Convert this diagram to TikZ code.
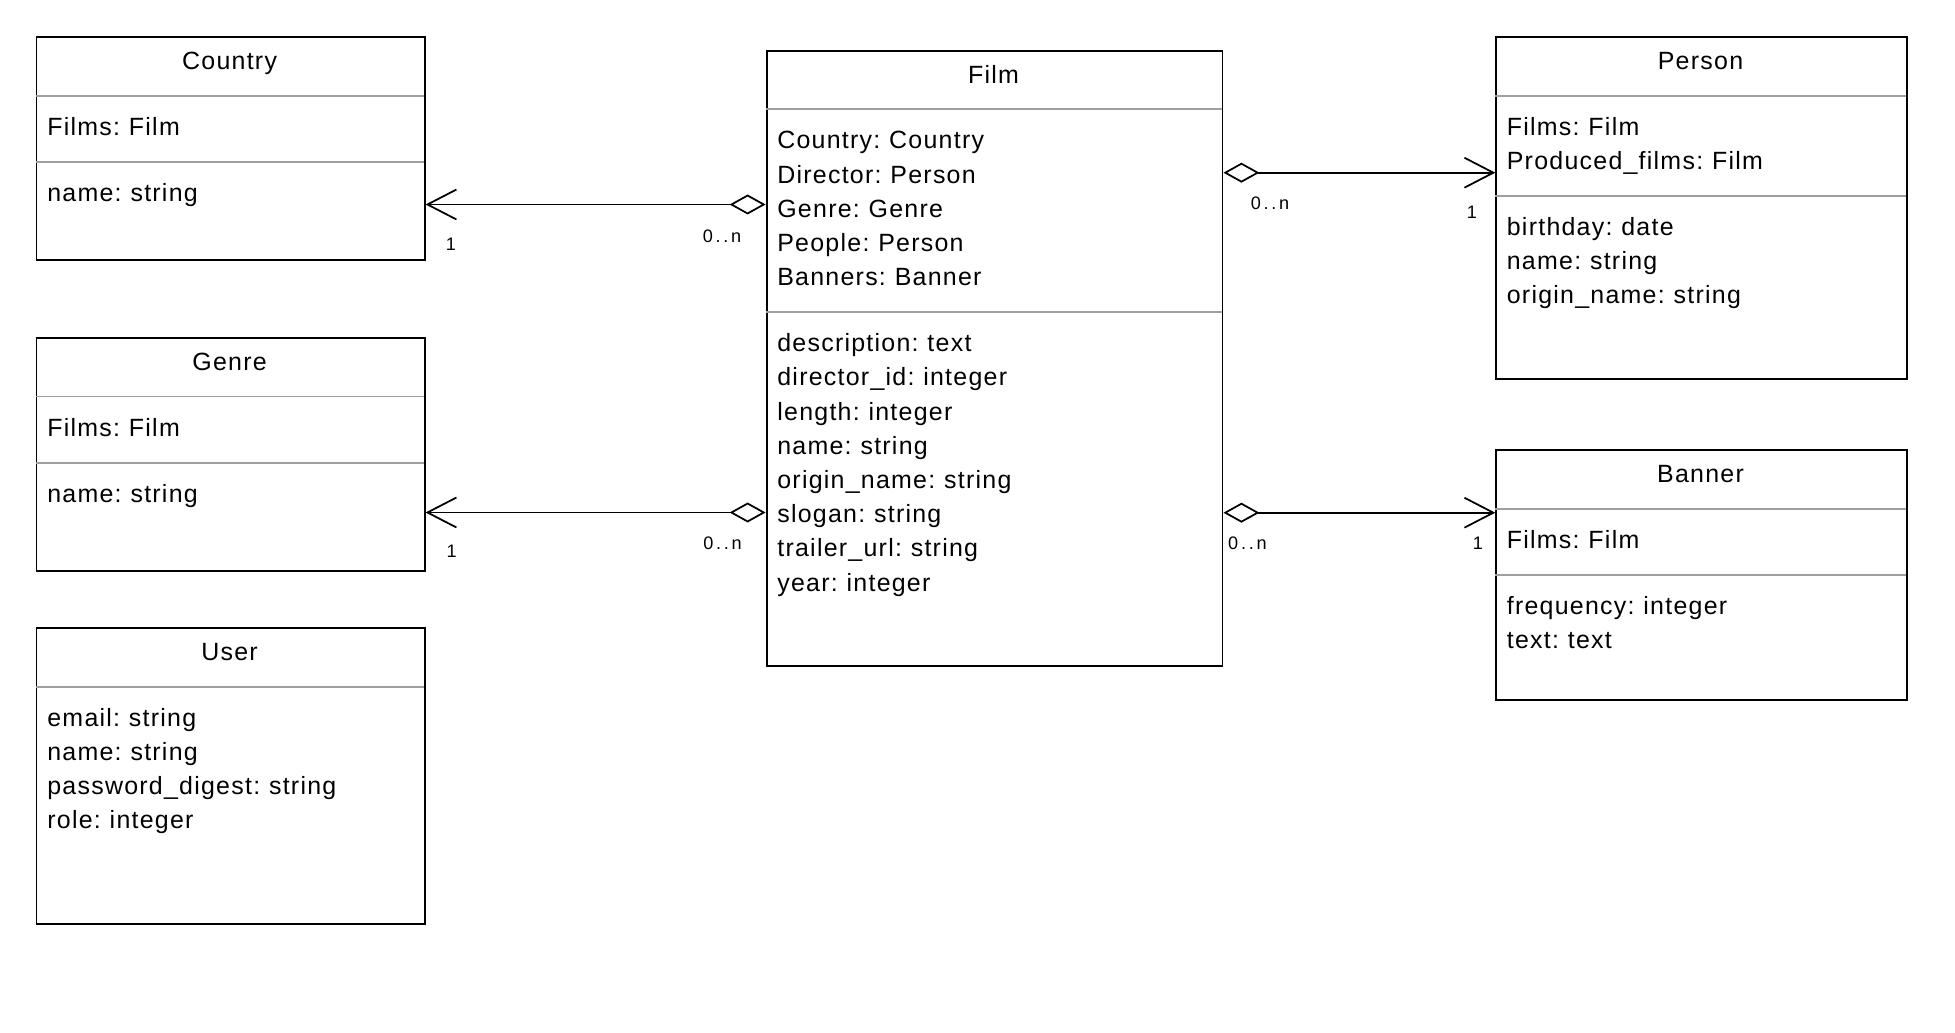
\documentclass[tikz,border=0pt]{standalone}
\usepackage{fontspec}
\setmainfont{Liberation Sans}[LetterSpace=5,WordSpace=0.75]
\newfontfamily\multfont{Liberation Sans}[LetterSpace=15]
\usepackage{tikz}
\usetikzlibrary{arrows.meta,positioning}

\begin{document}
\begin{tikzpicture}[x=0.02cm,y=-0.02cm,
  font=\fontsize{14.2}{19.4}\selectfont,
  cls/.style={draw,line width=1.1pt,inner sep=0pt,anchor=north west},
  sep/.style={line width=1pt,gray!75},
  ttl/.style={anchor=base,inner sep=0pt},
  attr/.style={anchor=base west,inner sep=0pt},
  mult/.style={anchor=base,inner sep=0pt,font={\multfont\fontsize{10.3}{12}\selectfont}},
  agg/.style={line width=1pt,{Diamond[open,length=0.72cm,width=0.4cm]}-{Straight Barb[length=0.58cm,width=0.6cm]}}]
  \useasboundingbox (0,0) rectangle (1955,1033);

  % Country
  \node[cls,minimum width=7.764cm,minimum height=4.466cm] (country) at (35.5,35.7) {};
  \node[ttl] (country-t) at (229.6,69.2) {Country};
  \draw[sep] (35.5,95.7) -- (423.7,95.7);
  \node[attr] (country-a) at (47,135.2) {Films: Film};
  \draw[sep] (35.5,162) -- (423.7,162);
  \node[attr] (country-b) at (47,201.5) {name: string};

  % Genre
  \node[cls,minimum width=7.764cm,minimum height=4.664cm] (genre) at (35.5,336.6) {};
  \node[ttl] (genre-t) at (229.6,370.1) {Genre};
  \draw[sep] (35.5,396.6) -- (423.7,396.6);
  \node[attr] (genre-a) at (47,436.1) {Films: Film};
  \draw[sep] (35.5,462.9) -- (423.7,462.9);
  \node[attr] (genre-b) at (47,502.4) {name: string};

  % User
  \node[cls,minimum width=7.764cm,minimum height=5.932cm] (user) at (35.5,626.7) {};
  \node[ttl] (user-t) at (229.6,660.2) {User};
  \draw[sep] (35.5,686.7) -- (423.7,686.7);
  \foreach \t [count=\i from 0] in {email: string,name: string,password\_digest: string,role: integer}
    \node[attr] (user-b\i) at (47,726.2+34.2*\i) {\t};

  % Film
  \node[cls,minimum width=9.12cm,minimum height=12.31cm] (film) at (765.6,50) {};
  \node[ttl] (film-t) at (993.6,83.5) {Film};
  \draw[sep] (765.6,109) -- (1221.6,109);
  \foreach \t [count=\i from 0] in {Country: Country,Director: Person,Genre: Genre,People: Person,Banners: Banner}
    \node[attr] (film-a\i) at (777,149+34.2*\i) {\t};
  \draw[sep] (765.6,312.3) -- (1221.6,312.3);
  \foreach \t [count=\i from 0] in {description: text,director\_id: integer,length: integer,name: string,origin\_name: string,slogan: string,trailer\_url: string,year: integer}
    \node[attr] (film-b\i) at (777,351.7+34.2*\i) {\t};

  % Person
  \node[cls,minimum width=8.208cm,minimum height=6.84cm] (person) at (1495.3,35.7) {};
  \node[ttl] (person-t) at (1700.5,69.2) {Person};
  \draw[sep] (1495.3,95.7) -- (1905.7,95.7);
  \foreach \t [count=\i from 0] in {Films: Film,Produced\_films: Film}
    \node[attr] (person-a\i) at (1506.5,135.2+34.2*\i) {\t};
  \draw[sep] (1495.3,195.7) -- (1905.7,195.7);
  \foreach \t [count=\i from 0] in {birthday: date,name: string,origin\_name: string}
    \node[attr] (person-b\i) at (1506.5,235.2+34.2*\i) {\t};

  % Banner
  \node[cls,minimum width=8.208cm,minimum height=5.006cm] (banner) at (1495.3,449) {};
  \node[ttl] (banner-t) at (1700.5,482.5) {Banner};
  \draw[sep] (1495.3,509) -- (1905.7,509);
  \node[attr] (banner-a) at (1506.5,548.5) {Films: Film};
  \draw[sep] (1495.3,575) -- (1905.7,575);
  \foreach \t [count=\i from 0] in {frequency: integer,text: text}
    \node[attr] (banner-b\i) at (1506.5,614.5+34.2*\i) {\t};

  % associations
  \coordinate (y-country) at (0,204.5);
  \coordinate (y-genre) at (0,512.5);
  \coordinate (y-person) at (0,172.7);
  \coordinate (y-banner) at (0,512.7);
  \draw[agg] (film.west |- y-country) -- (country.east |- y-country);
  \draw[agg] (film.west |- y-genre) -- (genre.east |- y-genre);
  \draw[agg] (film.east |- y-person) -- (person.west |- y-person);
  \draw[agg] (film.east |- y-banner) -- (banner.west |- y-banner);

  \node[mult] (country-m1) at (451,251) {1};
  \node[mult] (country-mn) at (722,242.7) {0..n};
  \node[mult] (genre-m1) at (451.7,558) {1};
  \node[mult] (genre-mn) at (722.6,550) {0..n};
  \node[mult] (person-mn) at (1270,210) {0..n};
  \node[mult] (person-m1) at (1472,218.3) {1};
  \node[mult] (banner-mn) at (1247.4,550) {0..n};
  \node[mult] (banner-m1) at (1478,550) {1};
\end{tikzpicture}
\end{document}
